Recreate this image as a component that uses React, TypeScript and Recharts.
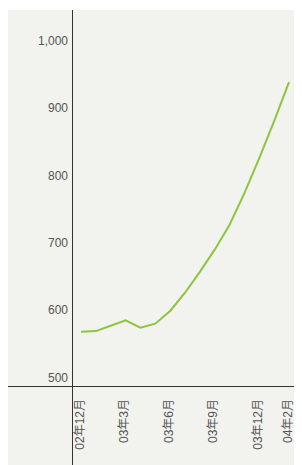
import React from 'react';
import { LineChart, Line, XAxis, YAxis } from 'recharts';

// monthly units, Dec 2002 - Feb 2004 (thousand units)
const months = [
    '02年12月', '03年1月', '03年2月', '03年3月', '03年4月', '03年5月', '03年6月', '03年7月',
    '03年8月', '03年9月', '03年10月', '03年11月', '03年12月', '04年1月', '04年2月',
];
const units = [568, 569, 577, 585, 574, 580, 599, 626, 657, 690, 727, 774, 826, 881, 939];
const shownMonths = ['02年12月', '03年3月', '03年6月', '03年9月', '03年12月', '04年2月'];
const yTicks = [500, 600, 700, 800, 900, 1000];
const unitLabel = '千台';

const data = months.map((m, i) => ({ month: m, value: units[i] }));

const FONT = '"Liberation Sans", Arial, "Noto Sans CJK JP", sans-serif';
const AXIS = '#333';
const TEXT = '#555';

const XTick = (props: any) => {
    const { x, y, payload } = props;
    return (
        <text
            transform={`translate(${x - 1.5},${y + 4}) rotate(-90)`}
            textAnchor="end"
            dy="0.35em"
            fontSize={12}
            fill={TEXT}
            fontFamily={FONT}
        >
            {payload.value}
        </text>
    );
};

const YTick = (props: any) => {
    const { x, y, payload } = props;
    return (
        <text x={x} y={y} textAnchor="end" dy="0.35em" fontSize={12} fill={TEXT} fontFamily={FONT}>
            {payload.value.toLocaleString('en-US')}
        </text>
    );
};

export default function App() {
    return (
        <div style={{ position: 'relative', width: 302, height: 465, margin: '-8px 0 0 -8px', background: '#fff', overflow: 'hidden' }}>
            <div
                style={{
                    position: 'absolute',
                    left: 8,
                    top: -9,
                    fontSize: 12,
                    fontFamily: FONT,
                    color: TEXT,
                    letterSpacing: 9,
                    lineHeight: '12px',
                }}
            >
                {unitLabel}
            </div>
            <div style={{ position: 'absolute', left: 8, top: 10, width: 294, height: 455, background: '#f2f2ee' }} />
            {/* axis lines run past the plot area */}
            <div style={{ position: 'absolute', left: 8, top: 386, width: 294, height: 1, background: AXIS }} />
            <div style={{ position: 'absolute', left: 72, top: 10, width: 1, height: 455, background: AXIS }} />
            <div style={{ position: 'absolute', left: 8, top: 10 }}>
                <LineChart width={294} height={455} data={data} margin={{ top: 0, right: 0, bottom: 0, left: 0 }}>
                    <XAxis
                        dataKey="month"
                        height={78}
                        padding={{ left: 8, right: 13 }}
                        axisLine={false}
                        tickLine={false}
                        ticks={shownMonths}
                        interval={0}
                        tick={<XTick />}
                    />
                    <YAxis
                        width={65}
                        domain={[486, 1046]}
                        ticks={yTicks}
                        axisLine={false}
                        tickLine={false}
                        tickSize={0}
                        tickMargin={5}
                        tick={<YTick />}
                        allowDataOverflow
                    />
                    <Line
                        type="linear"
                        dataKey="value"
                        stroke="#8cc63e"
                        strokeWidth={2}
                        dot={false}
                        isAnimationActive={false}
                    />
                </LineChart>
            </div>
        </div>
    );
}
